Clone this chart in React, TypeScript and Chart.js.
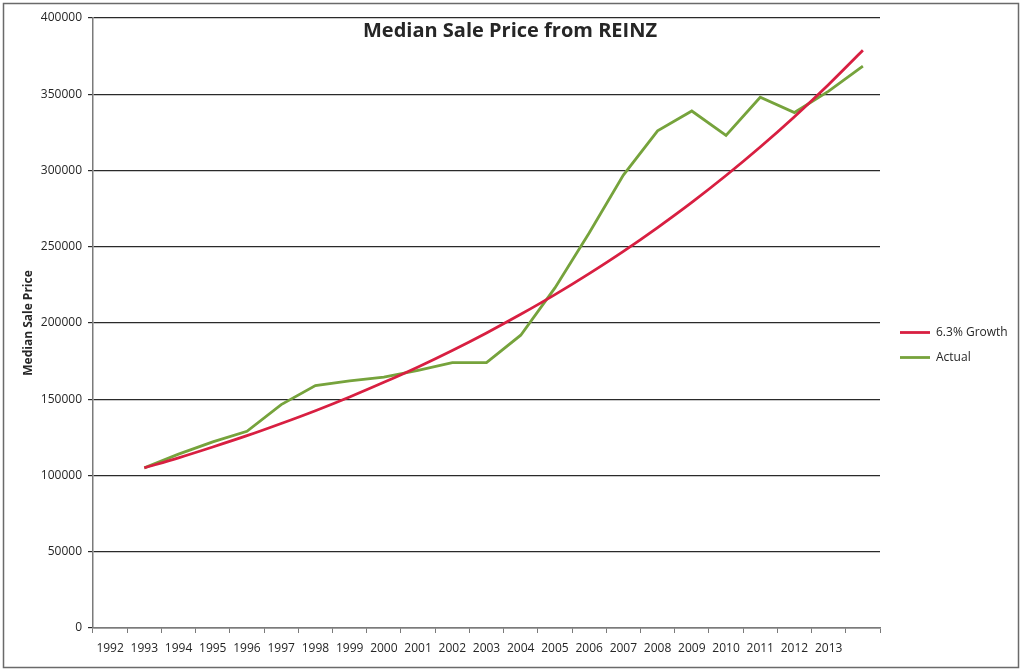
import React, { useEffect, useRef } from "react";
import { Chart, registerables } from "chart.js";

Chart.register(...registerables);

const categories = [
  "1992", "1993", "1994", "1995", "1996", "1997", "1998", "1999", "2000", "2001", "2002",
  "2003", "2004", "2005", "2006", "2007", "2008", "2009", "2010", "2011", "2012", "2013", "",
];

const growthValues = [
  null, 105000, 111600, 118700, 126100, 134100, 142500, 151500, 161100, 171200, 182000,
  193500, 205700, 218600, 232400, 247000, 262600, 279100, 296700, 315400, 335300, 356400, 378800,
];

const actualValues = [
  null, 105000, 114000, 122000, 129000, 146500, 159000, 162000, 164500, 169000, 174000,
  174000, 192000, 223000, 259000, 297000, 326000, 339000, 323000, 348000, 338000, 352000, 368500,
];

const seriesNames = ["6.3% Growth", "Actual"];
const titleText = "Median Sale Price from REINZ";
const yAxisTitle = "Median Sale Price";

const FONT = "'Open Sans', 'Noto Sans', sans-serif";

export default function App() {
  const canvasRef = useRef<HTMLCanvasElement | null>(null);

  useEffect(() => {
    if (!canvasRef.current) return;

    const framePlugin = {
      id: "frameAndTitle",
      beforeInit(chart: any) {
        const legend = chart.legend;
        if (legend) {
          const origFit = legend.fit.bind(legend);
          legend.fit = function () {
            origFit();
            this.width = 144;
          };
        }
      },
      afterLayout(chart: any) {
        if (chart.legend) {
          chart.legend.left += 7;
          chart.legend.top += 2;
        }
      },
      beforeDraw(chart: any) {
        const ctx = chart.ctx;
        ctx.save();
        ctx.fillStyle = "#ffffff";
        ctx.fillRect(0, 0, chart.width, chart.height);
        ctx.strokeStyle = "#6a6a6a";
        ctx.lineWidth = 1.5;
        ctx.strokeRect(3.5, 3.5, 1015, 664);
        ctx.restore();
      },
      afterDraw(chart: any) {
        const ctx = chart.ctx;
        const area = chart.chartArea;
        ctx.save();
        ctx.font = `bold 20px ${FONT}`;
        ctx.fillStyle = "#262626";
        ctx.textAlign = "center";
        ctx.textBaseline = "middle";
        ctx.fillText(titleText, 510, area.top + 13);
        ctx.restore();
      },
    };

    const chart = new Chart(canvasRef.current, {
      type: "line",
      data: {
        labels: categories,
        datasets: [
          {
            label: seriesNames[0],
            data: growthValues,
            borderColor: "#d81f41",
            backgroundColor: "#d81f41",
            borderWidth: 2.8,
            pointRadius: 0,
            tension: 0.3,
            spanGaps: false,
          },
          {
            label: seriesNames[1],
            data: actualValues,
            borderColor: "#76a33c",
            backgroundColor: "#76a33c",
            borderWidth: 2.8,
            pointRadius: 0,
            tension: 0,
          },
        ],
      },
      options: {
        animation: false,
        responsive: false,
        maintainAspectRatio: false,
        layout: { padding: { left: 0, right: 0, top: 18, bottom: 0 } },
        plugins: {
          title: { display: false },
          tooltip: { enabled: false },
          legend: {
            display: true,
            position: "right",
            labels: {
              usePointStyle: true,
              pointStyle: "line",
              pointStyleWidth: 30,
              padding: 13,
              color: "#262626",
              font: { family: FONT, size: 12 },
            },
          },
        },
        scales: {
          x: {
            type: "category",
            offset: true,
            grid: {
              display: true,
              drawOnChartArea: false,
              drawTicks: true,
              offset: true,
              tickLength: 5,
              color: "#7a7a7a",
            },
            border: { display: true, color: "#7a7a7a", width: 1.5 },
            ticks: {
              autoSkip: false,
              maxRotation: 0,
              minRotation: 0,
              padding: 8,
              color: "#262626",
              font: { family: FONT, size: 12 },
            },
            afterFit(scale: any) {
              scale.height = 42;
            },
          },
          y: {
            min: 0,
            max: 400000,
            ticks: {
              stepSize: 50000,
              padding: 6,
              color: "#262626",
              font: { family: FONT, size: 12 },
              callback: (value: any) => String(value),
            },
            grid: {
              color: "#2a2a2a",
              lineWidth: 1.2,
              tickLength: 5,
            },
            border: { display: true, color: "#7a7a7a", width: 1.5 },
            title: {
              display: true,
              text: yAxisTitle,
              color: "#262626",
              font: { family: FONT, size: 12, weight: "bold" },
              padding: { top: 21, bottom: 0 },
            },
            afterFit(scale: any) {
              scale.width = 93;
            },
          },
        },
      },
      plugins: [framePlugin],
    });

    return () => {
      chart.destroy();
    };
  }, []);

  return (
    <div style={{ position: "fixed", left: 0, top: 0, width: 1024, height: 670, background: "#fff" }}>
      <canvas ref={canvasRef} width={1024} height={670} style={{ display: "block", width: 1024, height: 670 }} />
    </div>
  );
}
